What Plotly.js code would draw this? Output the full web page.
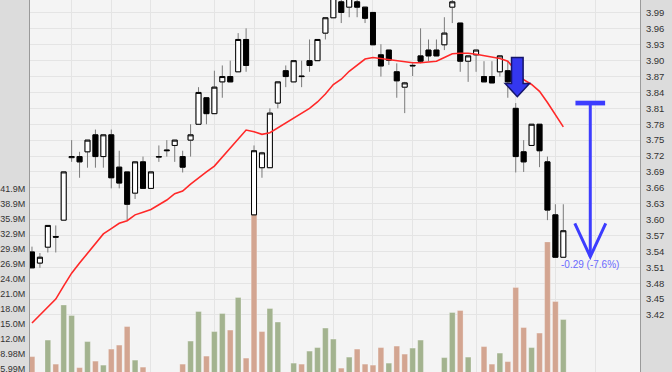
<!DOCTYPE html>
<html>
<head>
<meta charset="utf-8">
<script src="https://cdn.plot.ly/plotly-3.0.1.min.js"></script>
<style>
  html, body { margin: 0; padding: 0; background: #dcdcdc; }
  #chart { width: 672px; height: 372px; }
</style>
</head>
<body>
<div id="chart"></div>
<script>
// ---- Data ----
const openP  = [3.539,3.518,3.548,3.568,3.599,3.717,3.719,3.728,3.760,3.719,
                3.760,3.699,3.690,3.650,3.709,3.659,3.718,3.730,3.740,3.719,
                3.750,3.780,3.830,3.800,3.860,3.870,3.879,3.940,3.609,3.698,
                3.698,3.820,3.881,3.860,3.871,3.900,3.900,3.952,3.981,4.011,
                4.001,4.011,4.001,3.991,3.911,3.920,3.879,3.850,3.890,3.909,
                3.920,3.920,3.930,4.001,3.971,3.899,3.911,3.870,3.870,3.879,
                3.881,3.810,3.728,3.740,3.780,3.709,3.609,3.529];
const highP  = [3.549,3.537,3.589,3.589,3.690,3.750,3.728,3.750,3.770,3.760,
                3.770,3.730,3.690,3.709,3.719,3.690,3.740,3.750,3.750,3.730,
                3.780,3.850,3.830,3.881,3.891,3.900,3.952,3.961,3.740,3.728,
                3.810,3.860,3.891,3.900,3.900,3.940,3.940,3.981,4.030,4.030,
                4.030,4.020,4.001,3.991,3.931,3.920,3.895,3.860,3.895,3.961,
                3.940,3.940,3.982,4.030,3.971,3.909,3.920,3.899,3.899,3.909,
                3.899,3.820,3.750,3.780,3.780,3.719,3.629,3.629];
const lowP   = [3.509,3.509,3.538,3.538,3.599,3.709,3.679,3.698,3.698,3.698,
                3.659,3.659,3.599,3.639,3.659,3.659,3.709,3.719,3.709,3.689,
                3.719,3.780,3.780,3.800,3.830,3.860,3.879,3.879,3.609,3.679,
                3.698,3.810,3.850,3.860,3.850,3.879,3.900,3.940,3.981,3.971,
                3.982,3.982,3.971,3.930,3.870,3.892,3.830,3.801,3.871,3.895,
                3.899,3.909,3.920,3.971,3.879,3.860,3.879,3.860,3.858,3.870,
                3.830,3.689,3.690,3.740,3.699,3.599,3.529,3.529];
const closeP = [3.509,3.529,3.589,3.567,3.690,3.719,3.709,3.750,3.719,3.760,
                3.679,3.669,3.629,3.709,3.659,3.690,3.719,3.731,3.750,3.699,
                3.760,3.840,3.800,3.850,3.870,3.860,3.940,3.891,3.730,3.726,
                3.801,3.860,3.870,3.900,3.870,3.891,3.940,3.981,4.020,3.991,
                4.020,4.001,3.980,3.930,3.890,3.901,3.862,3.858,3.891,3.899,
                3.909,3.909,3.952,4.011,3.899,3.909,3.920,3.860,3.858,3.909,
                3.860,3.719,3.709,3.780,3.730,3.618,3.529,3.579];
// volume in millions
const volumeM = [8.5,5.0,11.8,7.0,18.8,16.7,6.3,11.5,7.6,6.8,
                 10.0,10.8,14.5,7.8,6.4,5.0,4.8,5.0,5.2,7.0,
                 11.6,17.5,8.6,13.5,17.1,13.8,20.3,8.2,41.7,13.5,
                 18.1,15.4,5.1,7.2,7.0,9.6,10.3,14.2,12.0,6.2,
                 8.4,10.0,7.0,6.8,10.3,7.2,10.6,9.0,10.2,11.8,
                 5.0,5.2,8.3,17.3,17.7,8.4,5.1,10.5,7.0,9.2,
                 7.5,22.3,14.3,10.3,13.2,31.4,19.5,15.9];
// moving average line
const maLine = [3.405,3.420,3.433,3.450,3.475,3.499,3.518,3.537,3.555,3.573,
                3.583,3.593,3.598,3.609,3.614,3.619,3.628,3.637,3.649,3.654,
                3.667,3.679,3.690,3.701,3.718,3.734,3.751,3.769,3.766,3.761,
                3.764,3.773,3.782,3.792,3.801,3.810,3.822,3.837,3.855,3.865,
                3.880,3.891,3.903,3.906,3.904,3.901,3.899,3.897,3.896,3.896,
                3.898,3.899,3.906,3.913,3.914,3.914,3.912,3.909,3.906,3.904,
                3.899,3.882,3.864,3.855,3.842,3.821,3.799,3.775];
const priceTicks = [3.42,3.45,3.48,3.51,3.54,3.57,3.60,3.63,3.66,3.69,3.72,3.75,
                    3.78,3.81,3.84,3.87,3.90,3.93,3.96,3.99];
const volTickValsM = [5.99,8.98,11.97,14.96,17.95,20.95,23.94,26.93,29.92,32.92,35.91,38.90,41.89];
const volTickText  = ["5.99M","8.98M","12.0M","15.0M","18.0M","21.0M","24.0M","26.9M",
                      "29.9M","32.9M","35.9M","38.9M","41.9M"];
const weekGridIdx = [5,10,15,23,28,33,38,43,48,56,61,66,71];
// annotations
const signalIdx = 61.2;          // blue block arrow over this candle
const measureFrom = 3.82, measureTo = 3.53;
const measureIdx = 70.4;
const measureLabel = "-0.29 (-7.6%)";

// ---- Build ----
const idx = openP.map((_, i) => i);
const volume = volumeM.map(v => v * 1e6);
const upColor = '#a3b38f', downColor = '#d3a591';
const volColors = closeP.map((c, i) => {
  const ref = i === 0 ? openP[0] : closeP[i - 1];
  return c >= ref ? upColor : downColor;
});
const bodyHigh = openP.map((o, i) => Math.max(o, closeP[i]));
const bodyLow  = openP.map((o, i) => Math.min(o, closeP[i]));

const traces = [
  {
    type: 'bar', x: idx, y: volume, yaxis: 'y', xaxis: 'x',
    width: 0.72,
    marker: { color: volColors, line: { color: 'rgba(255,255,255,0.45)', width: 0.6 } },
    hoverinfo: 'skip', showlegend: false
  },
  {
    type: 'scatter', mode: 'lines', x: idx, y: maLine, yaxis: 'y2',
    line: { color: 'rgb(255,40,40)', width: 1.6 },
    hoverinfo: 'skip', showlegend: false
  },
  { // wicks
    type: 'candlestick', x: idx, open: openP, high: highP, low: lowP, close: closeP,
    yaxis: 'y2', whiskerwidth: 0,
    increasing: { line: { color: '#7a7a7a', width: 1 }, fillcolor: 'rgba(0,0,0,0)' },
    decreasing: { line: { color: '#7a7a7a', width: 1 }, fillcolor: 'rgba(0,0,0,0)' },
    hoverinfo: 'skip', showlegend: false
  },
  { // bodies
    type: 'candlestick', x: idx, open: openP, high: bodyHigh, low: bodyLow, close: closeP,
    yaxis: 'y2', whiskerwidth: 0,
    increasing: { line: { color: '#000000', width: 1 }, fillcolor: '#ffffff' },
    decreasing: { line: { color: '#000000', width: 1 }, fillcolor: '#000000' },
    hoverinfo: 'skip', showlegend: false
  }
];

const sx = 0.73, hx = 1.54;
const arrowPath = `M ${signalIdx - sx},3.906 L ${signalIdx + sx},3.906 L ${signalIdx + sx},3.857 ` +
  `L ${signalIdx + hx},3.857 L ${signalIdx},3.832 L ${signalIdx - hx},3.857 L ${signalIdx - sx},3.857 Z`;
const vHead = 0.063, vHalf = 1.95;
const blue = '#3c3cff';

const layout = {
  width: 672, height: 372,
  margin: { l: 30, r: 32, t: 0, b: 0, pad: 0 },
  paper_bgcolor: '#dcdcdc',
  plot_bgcolor: '#f4f4f4',
  font: { family: 'Liberation Sans, Arial, sans-serif', size: 9.5, color: '#333' },
  showlegend: false,
  boxgap: 0.1, boxgroupgap: 0.3,
  bargap: 0.2,
  xaxis: {
    range: [-0.25, 76.67], tickvals: weekGridIdx, showticklabels: false,
    showgrid: true, gridcolor: '#e4e4e4', gridwidth: 1, zeroline: false,
    showline: false, ticks: '', rangeslider: { visible: false }, fixedrange: true
  },
  yaxis: {
    range: [5.43e6, 79.68e6], side: 'left',
    tickvals: volTickValsM.map(v => v * 1e6), ticktext: volTickText,
    tickfont: { size: 9 },
    showgrid: false, zeroline: false, showline: true, linecolor: '#9a9a9a', linewidth: 1,
    ticks: '', ticklabelstandoff: 2, ticklabeloverflow: 'allow', fixedrange: true
  },
  yaxis2: {
    range: [3.3124, 4.0145], overlaying: 'y', side: 'right', anchor: 'x',
    tickvals: priceTicks, tickformat: '.2f',
    showgrid: true, gridcolor: '#e4e4e4', gridwidth: 1, zeroline: false,
    showline: true, linecolor: '#9a9a9a', linewidth: 1,
    ticks: '', ticklabelstandoff: 3, ticklabeloverflow: 'allow', fixedrange: true
  },
  shapes: [
    { type: 'path', xref: 'x', yref: 'y2', path: arrowPath,
      fillcolor: '#3437ef', line: { color: '#15156a', width: 1.5 } },
    { type: 'line', xref: 'x', yref: 'y2', x0: measureIdx - 1.87, x1: measureIdx + 1.87,
      y0: measureFrom, y1: measureFrom, line: { color: blue, width: 4.7 } },
    { type: 'line', xref: 'x', yref: 'y2', x0: measureIdx, x1: measureIdx,
      y0: measureFrom, y1: measureTo, line: { color: blue, width: 3 } },
    { type: 'path', xref: 'x', yref: 'y2',
      path: `M ${measureIdx - vHalf},${measureTo + vHead} L ${measureIdx},${measureTo} L ${measureIdx + vHalf},${measureTo + vHead}`,
      line: { color: blue, width: 3 } }
  ],
  annotations: [
    { xref: 'x', yref: 'y2', x: measureIdx, y: measureTo, yanchor: 'top', xanchor: 'center',
      text: measureLabel, showarrow: false,
      font: { family: 'Liberation Sans, Arial, sans-serif', size: 10, color: '#6a6aff' } }
  ]
};

Plotly.newPlot('chart', traces, layout, { displayModeBar: false, staticPlot: true });
</script>
</body>
</html>
